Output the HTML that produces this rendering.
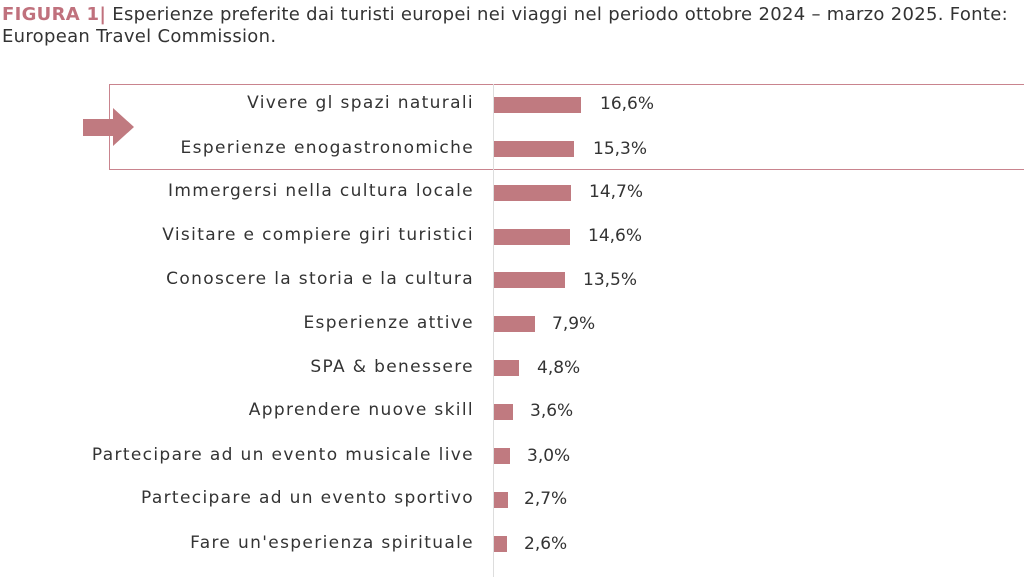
<!DOCTYPE html>
<html><head><meta charset="utf-8"><style>
body{margin:0;width:1024px;height:577px;background:#fff;position:relative;overflow:hidden;font-family:"DejaVu Sans","Liberation Sans",sans-serif;color:#333}
.t{position:absolute;left:2px;font-size:18px;white-space:nowrap;letter-spacing:0.3px}
.f{color:#c0717d;font-weight:bold}
.lab{position:absolute;right:550px;font-size:17px;white-space:nowrap;text-align:right;letter-spacing:1.35px;color:#333}
.bar{position:absolute;left:494px;height:16px;background:#c07a80}
.v{position:absolute;font-size:17px;white-space:nowrap;color:#333}
</style></head><body>
<div class="t" style="top:4px"><span class="f">FIGURA 1|</span> Esperienze preferite dai turisti europei nei viaggi nel periodo ottobre 2024 – marzo 2025. Fonte:</div>
<div class="t" style="top:26px">European Travel Commission.</div>
<div style="position:absolute;left:109px;top:84px;width:930px;height:86px;border:1.5px solid #c9848e;box-sizing:border-box;border-right:none"></div>
<div style="position:absolute;left:493px;top:84px;width:1px;height:493px;background:#ddd"></div>
<svg style="position:absolute;left:83px;top:108px" width="52" height="40"><polygon points="0,11 30,11 30,0 51,19 30,38 30,28 0,28" fill="#c07a80"/></svg>
<div class="lab" style="top:93px">Vivere gl spazi naturali</div><div class="bar" style="top:97px;width:87px"></div><div class="v" style="left:600px;top:94px">16,6%</div>
<div class="lab" style="top:138px">Esperienze enogastronomiche</div><div class="bar" style="top:141px;width:80px"></div><div class="v" style="left:593px;top:139px">15,3%</div>
<div class="lab" style="top:181px">Immergersi nella cultura locale</div><div class="bar" style="top:185px;width:77px"></div><div class="v" style="left:589px;top:182px">14,7%</div>
<div class="lab" style="top:225px">Visitare e compiere giri turistici</div><div class="bar" style="top:229px;width:76px"></div><div class="v" style="left:588px;top:226px">14,6%</div>
<div class="lab" style="top:269px">Conoscere la storia e la cultura</div><div class="bar" style="top:272px;width:71px"></div><div class="v" style="left:583px;top:270px">13,5%</div>
<div class="lab" style="top:313px">Esperienze attive</div><div class="bar" style="top:316px;width:41px"></div><div class="v" style="left:552px;top:314px">7,9%</div>
<div class="lab" style="top:357px">SPA &amp; benessere</div><div class="bar" style="top:360px;width:25px"></div><div class="v" style="left:537px;top:358px">4,8%</div>
<div class="lab" style="top:400px">Apprendere nuove skill</div><div class="bar" style="top:404px;width:19px"></div><div class="v" style="left:530px;top:401px">3,6%</div>
<div class="lab" style="top:445px">Partecipare ad un evento musicale live</div><div class="bar" style="top:448px;width:16px"></div><div class="v" style="left:527px;top:446px">3,0%</div>
<div class="lab" style="top:488px">Partecipare ad un evento sportivo</div><div class="bar" style="top:492px;width:14px"></div><div class="v" style="left:524px;top:489px">2,7%</div>
<div class="lab" style="top:533px">Fare un'esperienza spirituale</div><div class="bar" style="top:536px;width:13px"></div><div class="v" style="left:524px;top:534px">2,6%</div>
</body></html>
